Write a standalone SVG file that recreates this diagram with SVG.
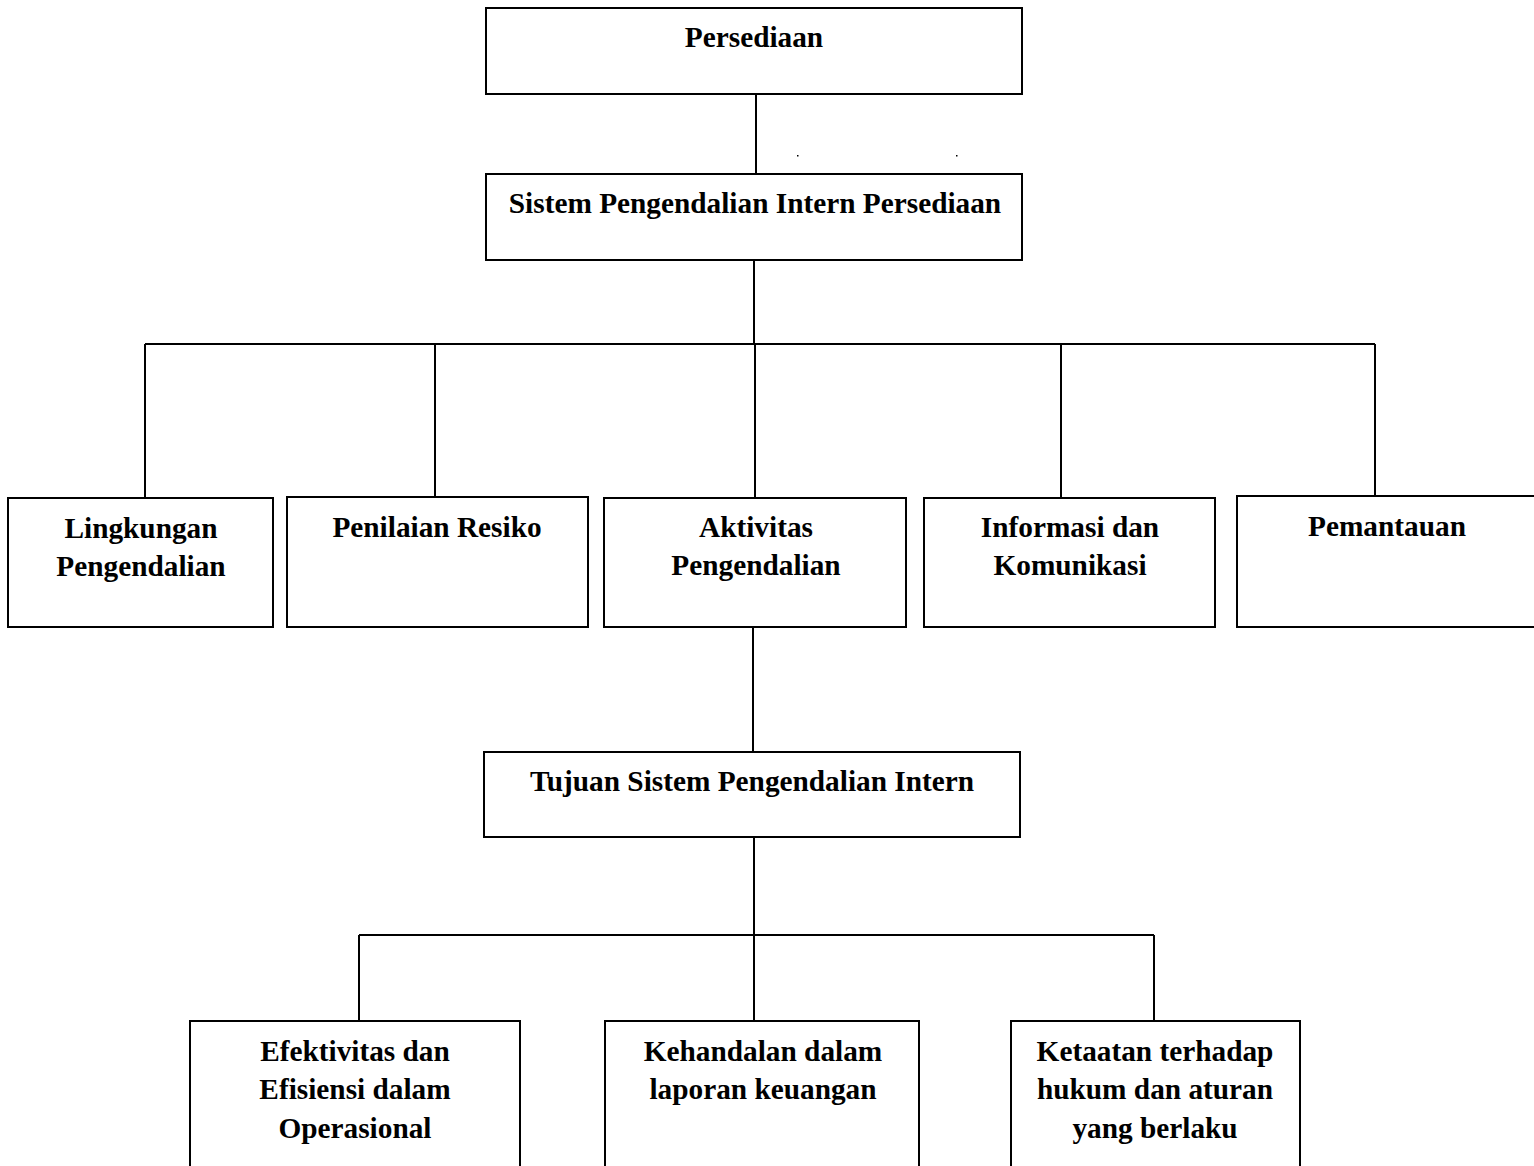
<svg xmlns="http://www.w3.org/2000/svg" width="1534" height="1166" viewBox="0 0 1534 1166">
<style>
.box{fill:#fff;stroke:#000;stroke-width:2}
.ln{stroke:#000;stroke-width:2;fill:none}
.t{font-family:"Liberation Serif","Times New Roman",serif;font-weight:bold;font-size:29.3px;fill:#000;text-anchor:middle}
</style>
<rect width="1534" height="1166" fill="#fff"/>
<g id="connectors">
<line class="ln" x1="756" y1="94" x2="756" y2="174"/>
<line class="ln" x1="754" y1="260" x2="754" y2="344"/>
<line class="ln" x1="145" y1="344" x2="1375" y2="344"/>
<line class="ln" x1="145" y1="344" x2="145" y2="498"/>
<line class="ln" x1="435" y1="344" x2="435" y2="497"/>
<line class="ln" x1="755" y1="344" x2="755" y2="498"/>
<line class="ln" x1="1061" y1="344" x2="1061" y2="498"/>
<line class="ln" x1="1375" y1="344" x2="1375" y2="496"/>
<line class="ln" x1="753" y1="627" x2="753" y2="752"/>
<line class="ln" x1="754" y1="837" x2="754" y2="935"/>
<line class="ln" x1="359" y1="935" x2="1154" y2="935"/>
<line class="ln" x1="359" y1="935" x2="359" y2="1021"/>
<line class="ln" x1="754" y1="935" x2="754" y2="1021"/>
<line class="ln" x1="1154" y1="935" x2="1154" y2="1021"/>
</g>
<rect x="797" y="155" width="1.5" height="1.5" fill="#000"/>
<rect x="956" y="155" width="1.5" height="1.5" fill="#000"/>
<g id="persediaan">
<rect class="box" x="486" y="8" width="536" height="86"/>
<text class="t" x="754" y="47">Persediaan</text>
</g>
<g id="spi">
<rect class="box" x="486" y="174" width="536" height="86"/>
<text class="t" x="755" y="213">Sistem Pengendalian Intern Persediaan</text>
</g>
<g id="lingkungan">
<rect class="box" x="8" y="498" width="265" height="129"/>
<text class="t" x="141" y="538">Lingkungan</text>
<text class="t" x="141" y="576">Pengendalian</text>
</g>
<g id="penilaian">
<rect class="box" x="287" y="497" width="301" height="130"/>
<text class="t" x="437" y="537">Penilaian Resiko</text>
</g>
<g id="aktivitas">
<rect class="box" x="604" y="498" width="302" height="129"/>
<text class="t" x="756" y="537">Aktivitas</text>
<text class="t" x="756" y="575">Pengendalian</text>
</g>
<g id="informasi">
<rect class="box" x="924" y="498" width="291" height="129"/>
<text class="t" x="1070" y="537">Informasi dan</text>
<text class="t" x="1070" y="575">Komunikasi</text>
</g>
<g id="pemantauan">
<rect class="box" x="1237" y="496" width="310" height="131"/>
<text class="t" x="1387" y="536">Pemantauan</text>
</g>
<g id="tujuan">
<rect class="box" x="484" y="752" width="536" height="85"/>
<text class="t" x="752" y="791">Tujuan Sistem Pengendalian Intern</text>
</g>
<g id="efektivitas">
<rect class="box" x="190" y="1021" width="330" height="160"/>
<text class="t" x="355" y="1061">Efektivitas dan</text>
<text class="t" x="355" y="1099">Efisiensi dalam</text>
<text class="t" x="355" y="1138">Operasional</text>
</g>
<g id="kehandalan">
<rect class="box" x="605" y="1021" width="314" height="160"/>
<text class="t" x="763" y="1061">Kehandalan dalam</text>
<text class="t" x="763" y="1099">laporan keuangan</text>
</g>
<g id="ketaatan">
<rect class="box" x="1011" y="1021" width="289" height="160"/>
<text class="t" x="1155" y="1061">Ketaatan terhadap</text>
<text class="t" x="1155" y="1099">hukum dan aturan</text>
<text class="t" x="1155" y="1138">yang berlaku</text>
</g>
</svg>
